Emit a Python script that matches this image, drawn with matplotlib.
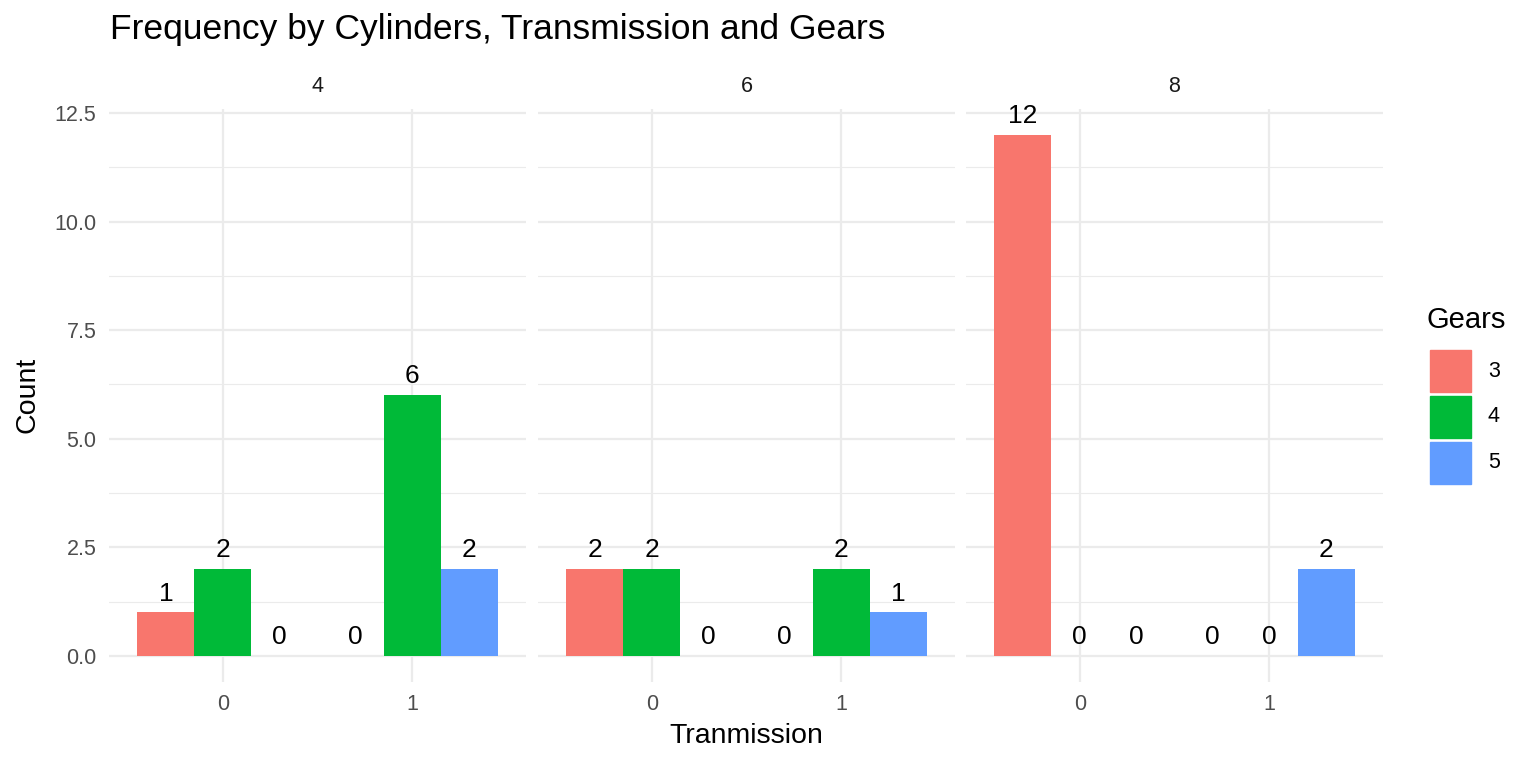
import matplotlib
matplotlib.use("Agg")
import matplotlib.pyplot as plt
import numpy as np

plt.rcParams['font.family'] = ['Liberation Sans', 'DejaVu Sans']

# data: counts per cylinder panel, transmission (0/1), gears (3/4/5)
cylinders = ['4', '6', '8']
transmission = ['0', '1']
gears = ['3', '4', '5']
counts = {
    '4': [[1, 2, 0], [0, 6, 2]],
    '6': [[2, 2, 0], [0, 2, 1]],
    '8': [[12, 0, 0], [0, 0, 2]],
}
gear_colors = ['#F8766D', '#00BA38', '#619CFF']

W, H = 1536, 768
fig = plt.figure(figsize=(W / 100, H / 100), dpi=100)

panel_left = [109, 538, 966]
panel_w = 417
top_px, bot_px = 108.6, 682
bw = 0.3
grid_c = '#EBEBEB'

for i, cyl in enumerate(cylinders):
    ax = fig.add_axes([panel_left[i] / W, 1 - bot_px / H, panel_w / W, (bot_px - top_px) / H])
    ax.set_xlim(-0.6, 1.6)
    ax.set_ylim(-0.6, 12.6)
    for s in ax.spines.values():
        s.set_visible(False)
    # grid
    for y in np.arange(0, 12.6, 2.5):
        ax.axhline(y, color=grid_c, lw=1.6, zorder=0)
    for y in np.arange(1.25, 12.6, 2.5):
        ax.axhline(y, color=grid_c, lw=0.8, zorder=0)
    for x in range(len(transmission)):
        ax.axvline(x, color=grid_c, lw=1.6, zorder=0)
    for t in range(len(transmission)):
        for g in range(len(gears)):
            v = counts[cyl][t][g]
            xc = t + (g - 1) * bw
            ax.bar(xc, v, width=bw, color=gear_colors[g], zorder=2)
            ax.annotate(str(v), (xc, v), xytext=(0, 5), textcoords='offset points',
                        ha='center', va='bottom', fontsize=19, color='black',
                        annotation_clip=False, zorder=3)
    ax.set_xticks(range(len(transmission)))
    ax.set_xticklabels(transmission)
    ax.tick_params(length=0, labelsize=15.5, labelcolor='#4D4D4D', pad=9)
    if i == 0:
        ax.set_yticks(np.arange(0, 12.6, 2.5))
        ax.set_yticklabels(['0.0', '2.5', '5.0', '7.5', '10.0', '12.5'])
    else:
        ax.set_yticks([])
    ax.set_facecolor('white')
    # strip label
    ax.text(0.5, 1.0 + 22 / (bot_px - top_px), cyl, transform=ax.transAxes,
            ha='center', va='center', fontsize=15.5, color='#1A1A1A')

fig.text(110 / W, 1 - 30 / H, 'Frequency by Cylinders, Transmission and Gears',
         ha='left', va='center', fontsize=25.5, color='black')
fig.text(746 / W, 1 - 736 / H, 'Tranmission', ha='center', va='center', fontsize=20.5)
fig.text(28 / W, 1 - 395 / H, 'Count', ha='center', va='center', fontsize=20.5, rotation=90)

# legend
fig.text(1427 / W, 1 - 320 / H, 'Gears', ha='left', va='center', fontsize=21)
for g, lab in enumerate(gears):
    y0 = 350 + g * 46
    fig.patches.append(plt.Rectangle((1430 / W, 1 - (y0 + 42) / H), 41 / W, 42 / H,
                                     transform=fig.transFigure, color=gear_colors[g]))
    fig.text(1488 / W, 1 - (y0 + 21) / H, lab, ha='left', va='center', fontsize=15.5)

fig.savefig('out.png', dpi=100, facecolor='white')
